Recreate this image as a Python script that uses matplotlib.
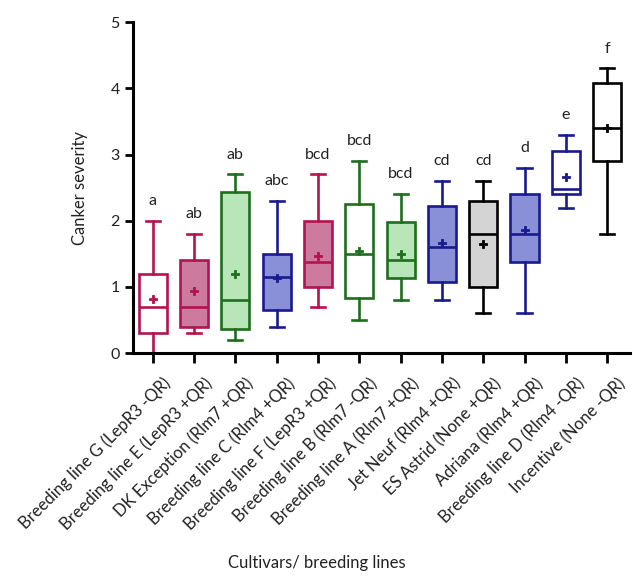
import matplotlib
matplotlib.use("Agg")
import matplotlib.pyplot as plt
from matplotlib.transforms import ScaledTranslation

plt.rcParams["font.family"] = ["Lato", "DejaVu Sans"]
plt.rcParams["text.color"] = "#222222"
plt.rcParams["xtick.labelcolor"] = "#222222"
plt.rcParams["ytick.labelcolor"] = "#222222"
plt.rcParams["axes.labelcolor"] = "#222222"

# cultivars / breeding lines, ordered as in the figure
labels = [
    "Breeding line G (LepR3 -QR)",
    "Breeding line E (LepR3 +QR)",
    "DK Exception (Rlm7 +QR)",
    "Breeding line C (Rlm4 +QR)",
    "Breeding line F (LepR3 +QR)",
    "Breeding line B (Rlm7 -QR)",
    "Breeding line A (Rlm7 +QR)",
    "Jet Neuf (Rlm4 +QR)",
    "ES Astrid (None +QR)",
    "Adriana (Rlm4 +QR)",
    "Breeding line D (Rlm4 -QR)",
    "Incentive (None -QR)",
]

# box statistics
whislo = [0.0, 0.3, 0.2, 0.4, 0.7, 0.5, 0.8, 0.8, 0.6, 0.6, 2.2, 1.8]
q1 = [0.3, 0.4, 0.37, 0.65, 1.0, 0.84, 1.13, 1.07, 1.0, 1.38, 2.4, 2.9]
med = [0.7, 0.7, 0.8, 1.15, 1.38, 1.5, 1.4, 1.6, 1.8, 1.8, 2.48, 3.4]
q3 = [1.2, 1.4, 2.43, 1.5, 2.0, 2.25, 1.98, 2.22, 2.3, 2.4, 3.06, 4.08]
whishi = [2.0, 1.8, 2.7, 2.3, 2.7, 2.9, 2.4, 2.6, 2.6, 2.8, 3.3, 4.3]
means = [0.82, 0.94, 1.2, 1.13, 1.47, 1.55, 1.5, 1.66, 1.65, 1.86, 2.66, 3.4]

letters = ["a", "ab", "ab", "abc", "bcd", "bcd", "bcd", "cd", "cd", "d", "e", "f"]

crimson = "#b3134f"
crimson_fill = "#cc7a9e"
green = "#1e6e1e"
green_fill = "#b8e6b8"
blue = "#1a1a8f"
blue_fill = "#8a90d8"
grey_fill = "#d4d4d4"

edge_colors = [crimson, crimson, green, blue, crimson, green, green,
               blue, "black", blue, blue, "black"]
face_colors = ["white", crimson_fill, green_fill, blue_fill, crimson_fill,
               "white", green_fill, blue_fill, grey_fill, blue_fill,
               "white", "white"]

stats = []
for i in range(len(labels)):
    stats.append({
        "whislo": whislo[i], "q1": q1[i], "med": med[i],
        "q3": q3[i], "whishi": whishi[i], "mean": means[i], "fliers": [],
    })

fig = plt.figure(figsize=(6.33, 5.8), dpi=100)
ax = fig.add_axes([0.21, 0.391, 0.785, 0.571])

positions = list(range(len(labels)))
bp = ax.bxp(stats, positions=positions, widths=0.68, patch_artist=True,
            showmeans=True, showcaps=True)

lw = 1.9
for i in range(len(labels)):
    c = edge_colors[i]
    bp["boxes"][i].set_facecolor(face_colors[i])
    bp["boxes"][i].set_edgecolor(c)
    bp["boxes"][i].set_linewidth(lw)
    bp["medians"][i].set_color(c)
    bp["medians"][i].set_linewidth(lw)
    for w in bp["whiskers"][2 * i:2 * i + 2]:
        w.set_color(c)
        w.set_linewidth(lw)
    for cap in bp["caps"][2 * i:2 * i + 2]:
        cap.set_color(c)
        cap.set_linewidth(lw)
    m = bp["means"][i]
    m.set_marker("P")
    m.set_markersize(5.5)
    m.set_markerfacecolor(c)
    m.set_markeredgecolor(c)
    m.set_markeredgewidth(0.6)

# significance letters above top whiskers
for i, let in enumerate(letters):
    ax.text(positions[i], whishi[i] + 0.3, let, ha="center", va="center",
            fontsize=11.5)

ax.set_ylim(0, 5)
ax.set_xlim(-0.48, 11.55)
ax.set_yticks([0, 1, 2, 3, 4, 5])
ax.set_xticks(positions)
ax.set_xticklabels(labels, rotation=45, ha="right", rotation_mode="anchor",
                   fontsize=12)
ax.tick_params(axis="y", labelsize=11.5, width=2, length=6, direction="out")
ax.tick_params(axis="x", width=2, length=7.5, direction="out", pad=8)

shift = ScaledTranslation(7 / 72, 0, fig.dpi_scale_trans)
for lab in ax.get_xticklabels():
    lab.set_transform(lab.get_transform() + shift)

ax.spines["top"].set_visible(False)
ax.spines["right"].set_visible(False)
ax.spines["left"].set_linewidth(2.2)
ax.spines["bottom"].set_linewidth(2.2)

ax.set_ylabel("Canker severity", fontsize=12, labelpad=16)
fig.text(0.5, 0.03, "Cultivars/ breeding lines", ha="center", va="center",
         fontsize=12)

fig.savefig("out.png", dpi=100)
